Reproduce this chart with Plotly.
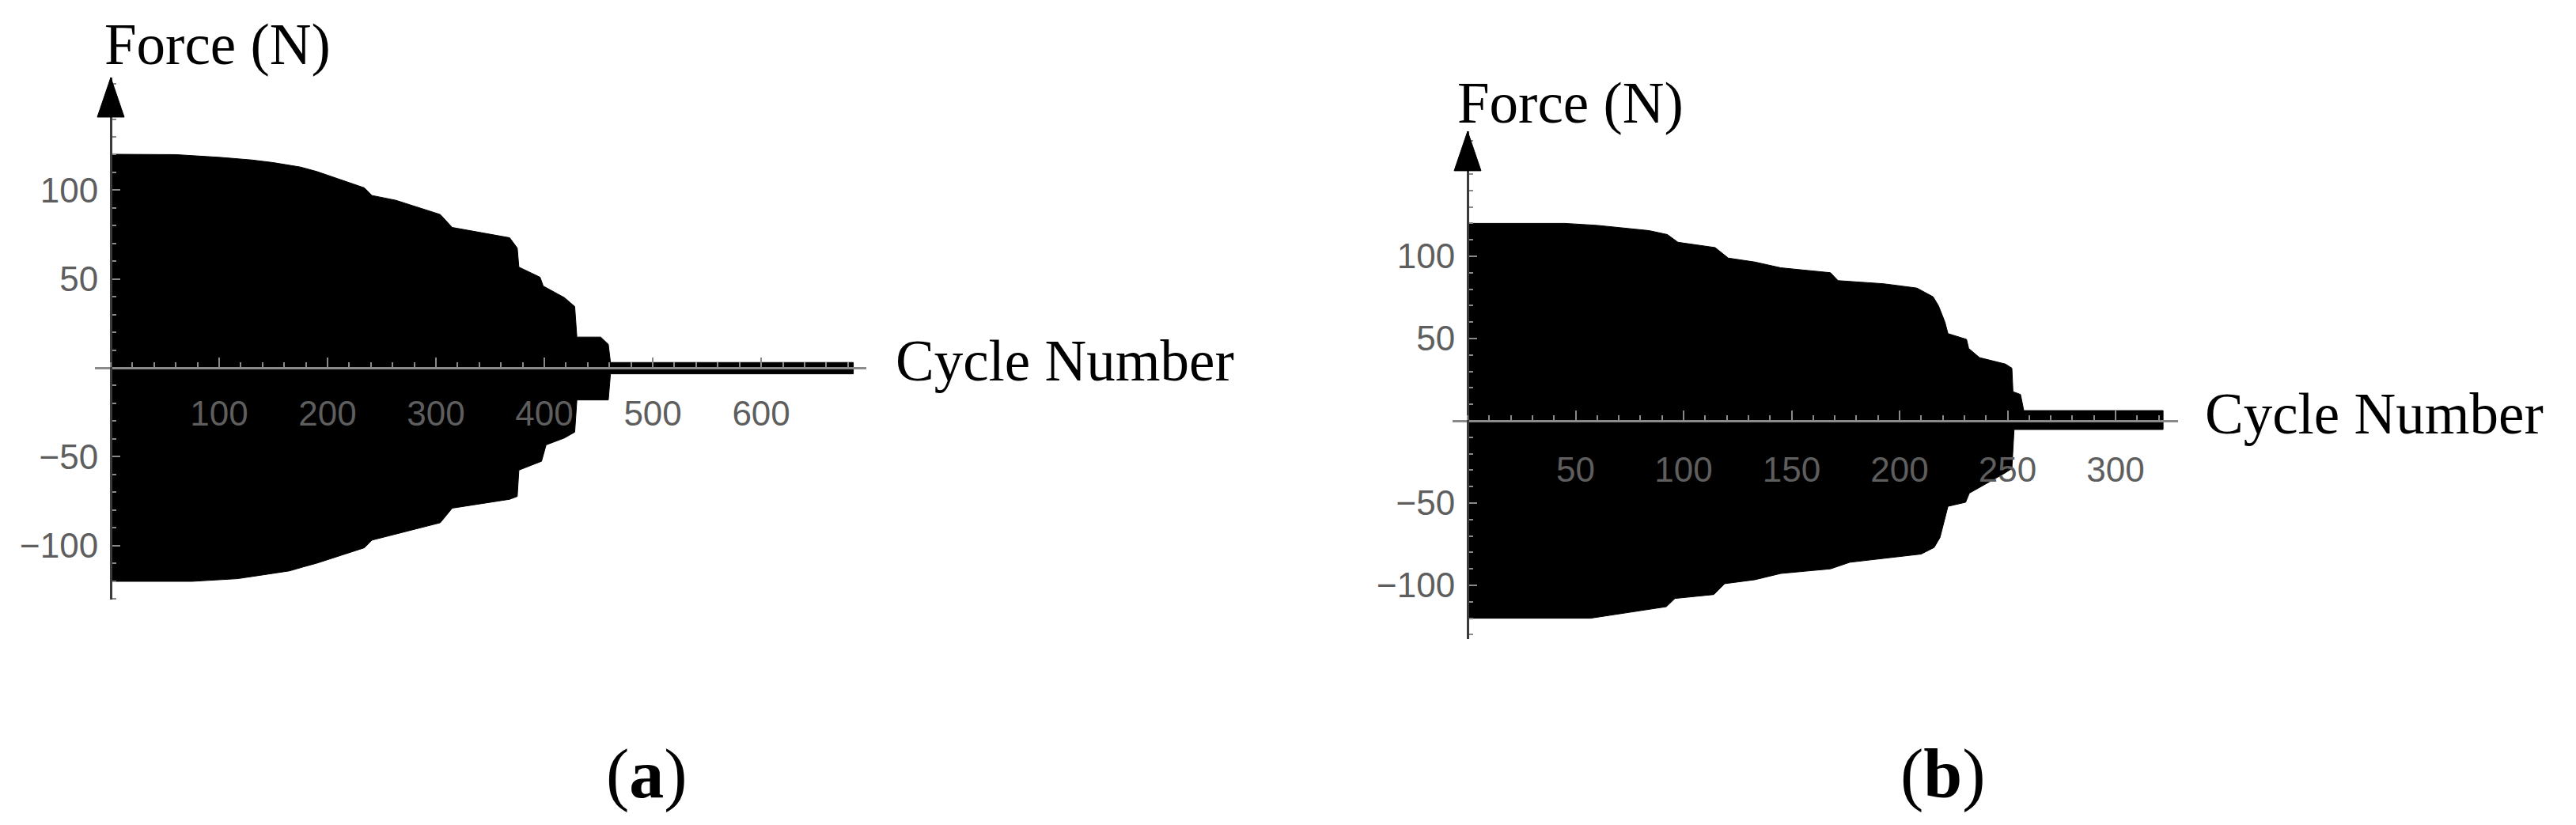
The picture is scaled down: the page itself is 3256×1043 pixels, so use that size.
"""
Envelope of the cyclic force signal for two tests, (a) and (b).

Each panel is the black band between the upper and lower peaks of the
force, plotted against the cycle number, with the axes crossing at zero.
"""

import plotly.graph_objects as go

# Test (a): upper and lower force envelope (N) per cycle
ciclos_a_sup = [0, 60, 100, 130, 150, 175, 190, 214, 234, 241, 263, 304, 315,
                368, 375, 376.5, 396, 399, 418.5, 428, 430, 452, 459, 461, 685]
forca_a_sup = [120.2, 120, 118.5, 117, 115.5, 113, 110.5, 105.4, 101.3, 97,
               94.3, 86.3, 79, 73.2, 67.4, 56.7, 51, 46, 39.5, 34.5, 17.3,
               17.3, 13.2, 3.0, 3.0]
ciclos_a_inf = [0, 75, 117, 141, 165, 178, 190, 234, 241, 263, 304, 315, 368,
                375, 376.5, 397.4, 401.6, 418.5, 428, 430, 459, 461, 685]
forca_a_inf = [-120.2, -120.2, -118.7, -116.5, -114.3, -112, -110, -101.3,
               -97, -93.5, -87.2, -79, -74, -72.4, -57.6, -52.6, -43.4, -39.5,
               -36.2, -18.1, -18.1, -3.4, -3.4]
ticks_x_a = [100, 200, 300, 400, 500, 600]

# Test (b)
ciclos_b_sup = [0, 45, 60, 84, 92.5, 97.4, 114.6, 120.7, 133, 145, 168, 171.5,
                192.6, 208, 215.5, 218, 221, 222.4, 231, 232, 237, 249, 252,
                252.5, 256, 257.5, 322]
forca_b_sup = [120, 120, 118.8, 115.6, 113.2, 108.5, 105.3, 98.9, 96.5, 93,
               90, 85.2, 83.3, 80.7, 75.4, 70, 60, 53, 49.5, 44, 38.4, 34.5,
               32, 17.7, 16, 6.2, 6.2]
ciclos_b_inf = [0, 57, 69, 92, 96, 114, 119, 133, 145, 168, 177, 210, 216,
                218.7, 222.4, 230.6, 232.3, 248.5, 252, 253, 322]
forca_b_inf = [-120, -120, -117.5, -113, -108, -105.6, -99, -96.6, -92.8, -90,
               -86, -81, -77, -71, -52, -49.5, -44, -32, -29, -5.3, -5.3]
ticks_x_b = [50, 100, 150, 200, 250, 300]

ticks_y = [-100, -50, 50, 100]

CORES = {
    "preto": "#000000",
    "eixo": "#8a8a8a",
    "eixo_y": "#3a3a3a",
    "rotulo": "#5e5e5e",
}

FONTE_TEXTO = "Liberation Serif, Times New Roman, serif"
FONTE_TICKS = "Liberation Sans, Arial, sans-serif"

LARGURA = 3256
ALTURA = 1043

# layout of each panel: axis ranges and where they sit on the page
PAINEIS = {
    "a": {
        "x_range": [-14.6, 697],
        "y_range": [-130.5, 163.4],
        "x_domain": [120 / LARGURA, 1095 / LARGURA],
        "y_domain": [1 - 758.1 / ALTURA, 1 - 98 / ALTURA],
        "minor_x": 20,
        "pos_force": (-7.3, 182),
        "pos_cycle": (722.6, 4),
        "standoff_x": 18,
    },
    "b": {
        "x_range": [-7, 329],
        "y_range": [-132.7, 176],
        "x_domain": [1835.9 / LARGURA, 2753.2 / LARGURA],
        "y_domain": [1 - 808 / ALTURA, 1 - 165.9 / ALTURA],
        "minor_x": 10,
        "pos_force": (-5.5, 193),
        "pos_cycle": (340.5, 4),
        "standoff_x": 22,
    },
}


def _para_papel(valor, rng, dom):
    """Converts an axis value into a page fraction (works outside the range too)."""
    return dom[0] + (valor - rng[0]) / (rng[1] - rng[0]) * (dom[1] - dom[0])


def _eixo_x(p, ticks):
    return {
        "domain": p["x_domain"],
        "range": p["x_range"],
        "anchor": "free",
        "position": _para_papel(0, p["y_range"], p["y_domain"]),
        "showgrid": False,
        "zeroline": False,
        "showline": True,
        "linecolor": CORES["eixo"],
        "linewidth": 3,
        "ticks": "inside",
        "ticklen": 12,
        "tickwidth": 2,
        "tickcolor": CORES["eixo"],
        "tickvals": ticks,
        "ticktext": [str(t) for t in ticks],
        "tickfont": {"family": FONTE_TICKS, "size": 44, "color": CORES["rotulo"]},
        "ticklabelstandoff": p["standoff_x"],
        "minor": {
            "dtick": p["minor_x"],
            "tick0": 0,
            "ticks": "inside",
            "ticklen": 6,
            "tickwidth": 2,
            "tickcolor": CORES["eixo"],
        },
        "layer": "above traces",
        "fixedrange": True,
    }


def _eixo_y(p):
    return {
        "domain": p["y_domain"],
        "range": p["y_range"],
        "anchor": "free",
        "position": _para_papel(0, p["x_range"], p["x_domain"]),
        "showgrid": False,
        "zeroline": False,
        "showline": True,
        "linecolor": CORES["eixo_y"],
        "linewidth": 3,
        "ticks": "inside",
        "ticklen": 10,
        "tickwidth": 2,
        "tickcolor": CORES["eixo"],
        "tickvals": ticks_y,
        "tickfont": {"family": FONTE_TICKS, "size": 44, "color": CORES["rotulo"]},
        "ticklabelstandoff": 6,
        "minor": {
            "dtick": 10,
            "tick0": 0,
            "ticks": "inside",
            "ticklen": 5,
            "tickwidth": 2,
            "tickcolor": CORES["eixo"],
        },
        "layer": "above traces",
        "fixedrange": True,
    }


def _envelope(cx_sup, f_sup, cx_inf, f_inf, eixo_x, eixo_y):
    """Black band between the upper and the lower envelope."""
    return go.Scatter(
        x=list(cx_sup) + list(cx_inf)[::-1],
        y=list(f_sup) + list(f_inf)[::-1],
        xaxis=eixo_x,
        yaxis=eixo_y,
        mode="lines",
        fill="toself",
        fillcolor=CORES["preto"],
        line={"color": CORES["preto"], "width": 1},
        hoverinfo="skip",
        showlegend=False,
    )


fig = go.Figure()
fig.add_trace(_envelope(ciclos_a_sup, forca_a_sup, ciclos_a_inf, forca_a_inf, "x", "y"))
fig.add_trace(_envelope(ciclos_b_sup, forca_b_sup, ciclos_b_inf, forca_b_inf, "x2", "y2"))

anotacoes = []
formas = []
for chave, eixo_x, eixo_y in (("a", "x", "y"), ("b", "x2", "y2")):
    p = PAINEIS[chave]
    fonte = {"family": FONTE_TEXTO, "size": 73, "color": CORES["preto"]}
    # axis titles sit outside the axis ranges, so they go in page coordinates
    for texto, (vx, vy) in (("Force (N)", p["pos_force"]), ("Cycle Number", p["pos_cycle"])):
        anotacoes.append(dict(
            text=texto,
            x=_para_papel(vx, p["x_range"], p["x_domain"]),
            y=_para_papel(vy, p["y_range"], p["y_domain"]),
            xref="paper", yref="paper",
            xanchor="left", yanchor="middle", showarrow=False, font=fonte,
        ))
    # arrow head at the top of the force axis
    formas.append(dict(
        type="path", xref=eixo_x, yref=eixo_y,
        xsizemode="pixel", ysizemode="pixel",
        xanchor=0, yanchor=p["y_range"][1],
        path="M0,0 L-17,-50 L17,-50 Z",
        fillcolor=CORES["preto"], line={"color": CORES["preto"], "width": 1},
        layer="above",
    ))

for letra, xpos in (("a", 818 / LARGURA), ("b", 2456 / LARGURA)):
    anotacoes.append(dict(
        text=f"(<b>{letra}</b>)", x=xpos, y=1 - 978 / ALTURA,
        xref="paper", yref="paper", xanchor="center", yanchor="middle",
        showarrow=False,
        font={"family": FONTE_TEXTO, "size": 88, "color": CORES["preto"]},
    ))

fig.update_layout(
    width=LARGURA,
    height=ALTURA,
    margin={"l": 0, "r": 0, "t": 0, "b": 0},
    paper_bgcolor="white",
    plot_bgcolor="white",
    showlegend=False,
    xaxis=_eixo_x(PAINEIS["a"], ticks_x_a),
    yaxis=_eixo_y(PAINEIS["a"]),
    xaxis2=_eixo_x(PAINEIS["b"], ticks_x_b),
    yaxis2=_eixo_y(PAINEIS["b"]),
    annotations=anotacoes,
    shapes=formas,
)

fig.write_html(
    "out.html",
    config={"displayModeBar": False},
    post_script="document.body.style.margin='0px';",
)
